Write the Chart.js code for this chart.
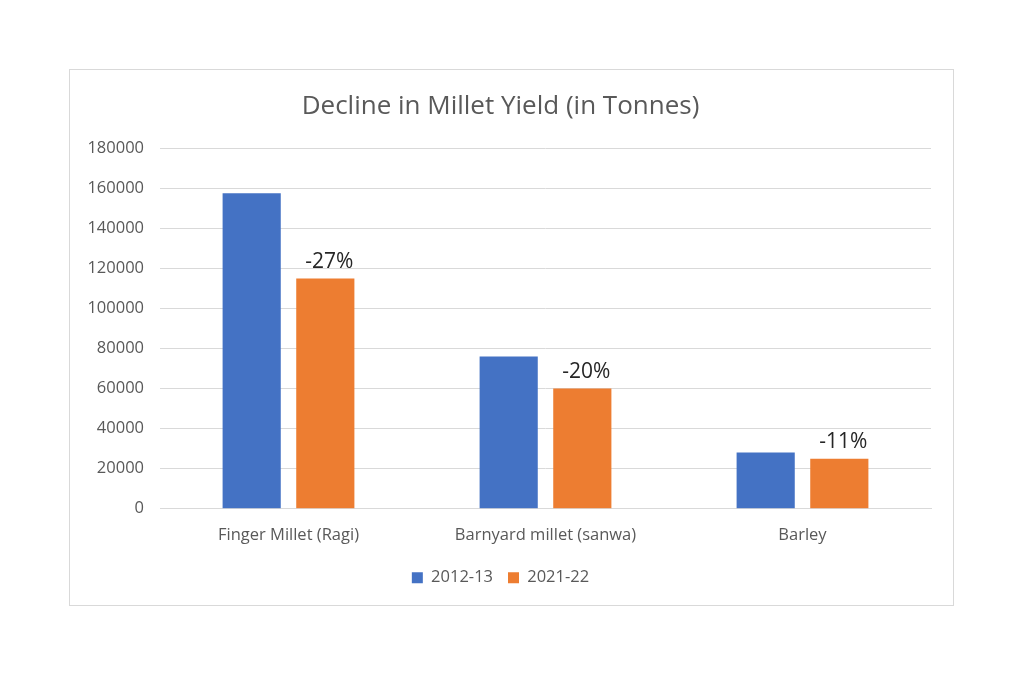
<!DOCTYPE html>
<html>
<head>
<meta charset="utf-8">
<script src="https://cdn.jsdelivr.net/npm/chart.js@4.4.0/dist/chart.umd.min.js"></script>
<style>
    body { margin: 0; background: #ffffff; width: 1024px; height: 683px; position: relative; overflow: hidden; }
    #frame {
        position: absolute; left: 69px; top: 69px; width: 885px; height: 537px;
        border: 1px solid #d9d9d9; box-sizing: border-box; background: #fff;
    }
    #frame canvas { display: block; }
</style>
</head>
<body>
<div id="frame"><canvas id="yieldChart"></canvas></div>
<script>
// --- Chart data ---
const crops = ['Finger Millet (Ragi)', 'Barnyard millet (sanwa)', 'Barley'];
const yield2012 = [157500, 76000, 28000];
const yield2021 = [115000, 60000, 25000];
const declineLabels = ['-27%', '-20%', '-11%'];
const seriesNames = ['2012-13', '2021-22'];

const TEXT_GREY = '#595959';
const FONT = "'Open Sans', sans-serif";

// draws the decline % above each 2021-22 bar
const declinePlugin = {
    id: 'declineLabels',
    afterDatasetsDraw(chart) {
        const ctx = chart.ctx;
        const meta = chart.getDatasetMeta(1);
        ctx.save();
        ctx.font = "21px " + FONT;
        ctx.fillStyle = '#262626';
        ctx.textAlign = 'center';
        ctx.textBaseline = 'bottom';
        meta.data.forEach((bar, i) => {
            ctx.fillText(declineLabels[i], bar.x + 4, bar.y - 6);
        });
        ctx.restore();
    }
};

document.addEventListener('DOMContentLoaded', function() {
    const canvas = document.getElementById('yieldChart');
    canvas.width = 883;
    canvas.height = 535;

    new Chart(canvas.getContext('2d'), {
        type: 'bar',
        data: {
            labels: crops,
            datasets: [
                { label: seriesNames[0], data: yield2012, backgroundColor: '#4472c4' },
                { label: seriesNames[1], data: yield2021, backgroundColor: '#ed7d31' }
            ]
        },
        options: {
            responsive: false,
            animation: false,
            devicePixelRatio: 1,
            categoryPercentage: 0.573,
            barPercentage: 0.79,
            layout: { padding: { left: 0, right: 22, top: 10, bottom: 9 } },
            plugins: {
                title: {
                    display: true,
                    text: 'Decline in Millet Yield (in Tonnes)',
                    color: TEXT_GREY,
                    font: { family: FONT, size: 26, weight: 'normal' },
                    padding: { top: 11, bottom: 26 }
                },
                legend: {
                    position: 'bottom',
                    labels: {
                        color: TEXT_GREY,
                        font: { family: FONT, size: 16.5 },
                        boxWidth: 11,
                        boxHeight: 11,
                        padding: 15
                    }
                },
                tooltip: { enabled: false }
            },
            scales: {
                x: {
                    grid: { display: false },
                    border: { color: '#d9d9d9' },
                    ticks: { color: TEXT_GREY, font: { family: FONT, size: 16.5 }, padding: 9 }
                },
                y: {
                    min: 0,
                    max: 180000,
                    afterFit(scale) { scale.width = 90; },
                    grid: { color: '#d9d9d9', drawTicks: false },
                    border: { display: false },
                    ticks: {
                        stepSize: 20000,
                        color: TEXT_GREY,
                        font: { family: FONT, size: 16.5 },
                        padding: 16,
                        callback: v => String(v)
                    }
                }
            }
        },
        plugins: [declinePlugin]
    });
});
</script>
</body>
</html>
